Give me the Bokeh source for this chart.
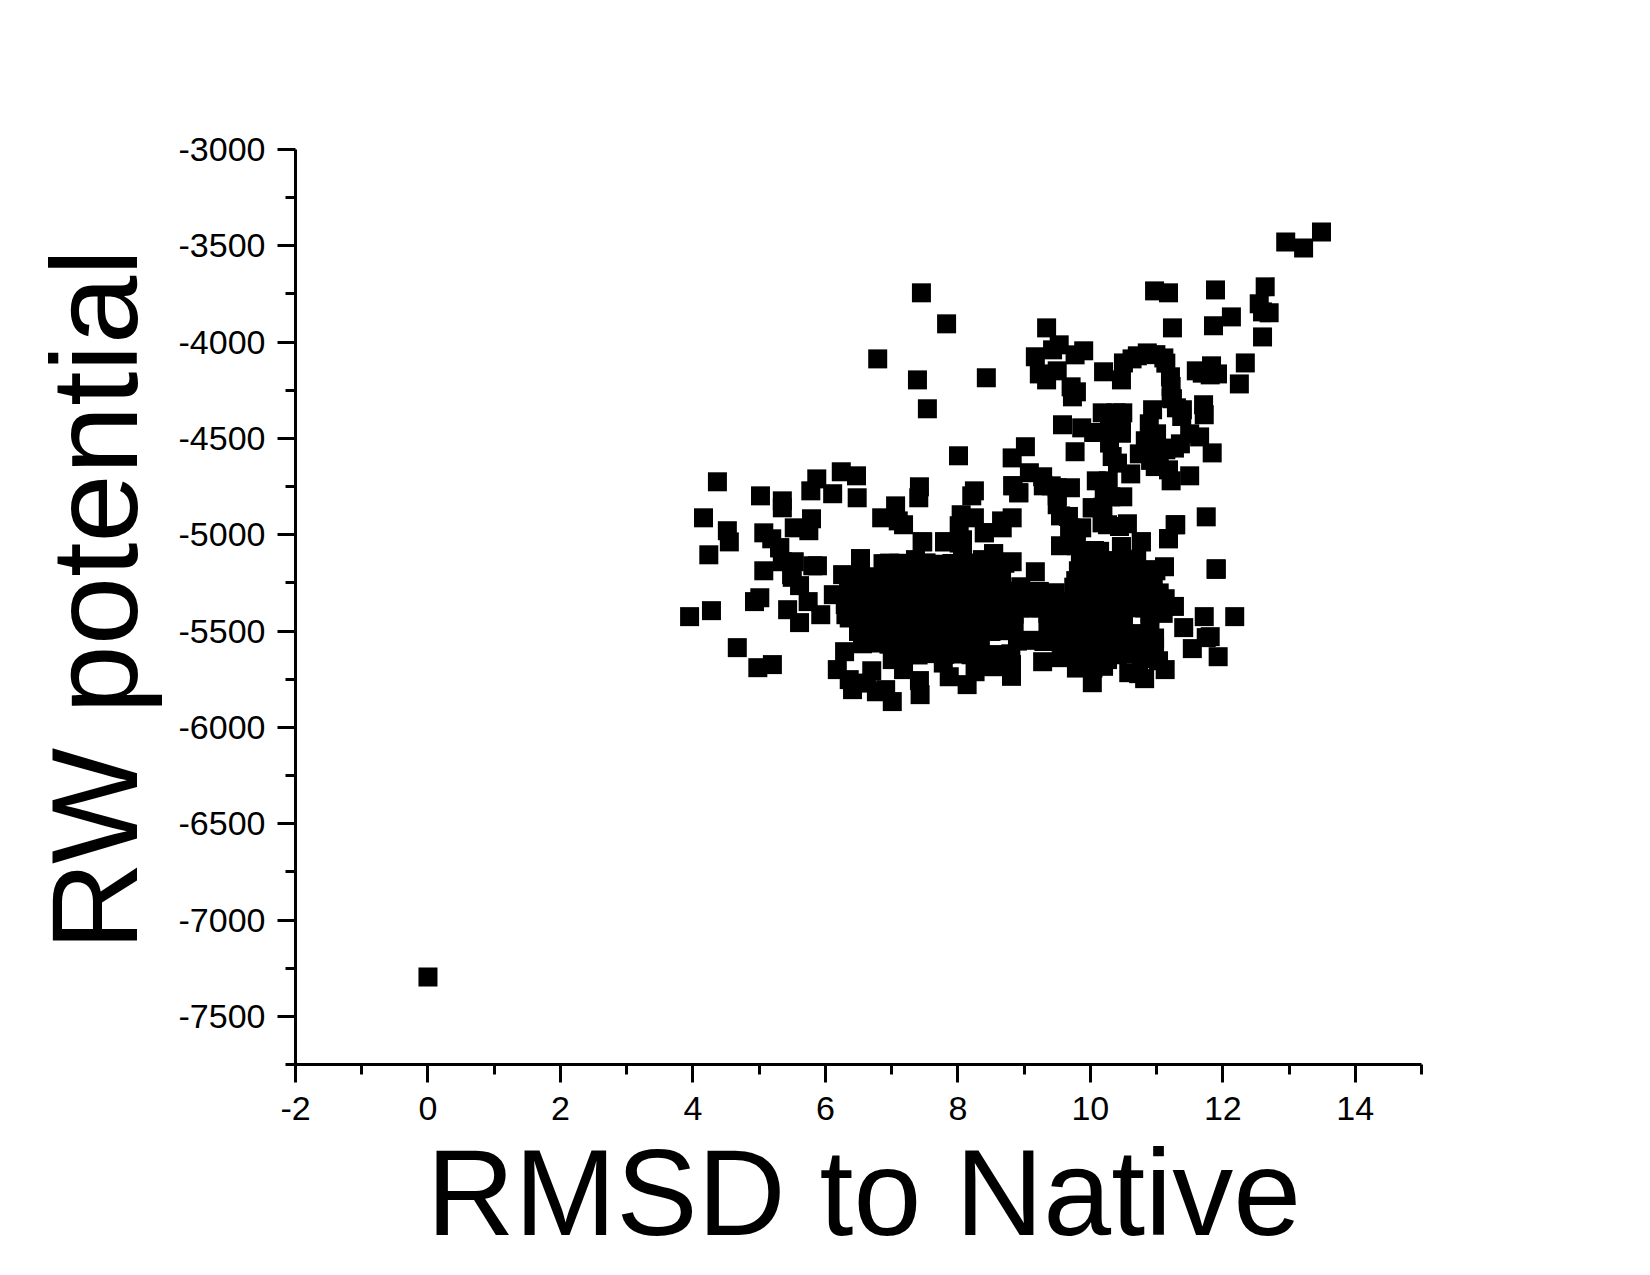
from bokeh.plotting import figure
from bokeh.models import FixedTicker, Title
from bokeh.embed import file_html
from bokeh.resources import INLINE

native = [(0.0, -7296)]

upper_sparse = [
    (7.45,-3744),(7.83,-3905),(6.79,-4087),(7.39,-4196),(8.43,-4185),(7.54,-4346),(8.01,-4590),
    (9.02,-4543),(8.82,-4601),(9.77,-4569),(9.34,-3926),(9.53,-4014),(9.43,-4040),(9.90,-4045),
    (9.77,-4066),(9.17,-4076),(9.23,-4165),(9.50,-4149),(9.34,-4196),(9.71,-4232),(9.79,-4258),
    (9.73,-4284),(10.20,-4154),(10.47,-4196),
]
upper_arc = [
    (10.50,-4108),(10.63,-4087),(10.71,-4071),(10.86,-4056),(10.99,-4065),(11.11,-4082),(11.14,-4109),
    (11.21,-4180),(11.22,-4230),(11.22,-4291),(11.24,-4294),(11.30,-4341),(11.39,-4351),(11.38,-4386),
    (11.50,-4476),(11.65,-4492),(11.71,-4325),(11.72,-4377),(11.84,-4575),(11.50,-4694),(11.22,-4720),
    (11.18,-4663),(10.98,-4646),(10.91,-4614),(10.74,-4580),(11.36,-4528),(11.27,-4550),(11.14,-4559),
    (10.94,-4351),(10.89,-4424),(11.00,-4476),(10.83,-4512),(11.04,-4576),(10.94,-4550),
]
upper_block = [
    (10.18,-4367),(10.39,-4367),(10.49,-4367),(10.29,-4421),(10.47,-4438),(9.58,-4429),(9.87,-4445),
    (10.05,-4469),(10.29,-4473),(10.47,-4473),(10.29,-4524),(10.33,-4594),(10.41,-4628),(10.61,-4684),
    (10.09,-4720),(10.27,-4720),(9.08,-4678),(9.28,-4699),(9.41,-4746),(8.83,-4746),(8.92,-4782),
    (9.29,-4746),(9.70,-4756),(9.50,-4756),(9.50,-4798),(9.50,-4844),(9.55,-4902),(9.67,-4905),
    (10.21,-4801),(10.49,-4803),(10.31,-4803),(10.03,-4860),(10.19,-4857),(10.18,-4938),(10.26,-4948),
    (10.56,-4943),(10.44,-4957),(9.69,-4964),(9.87,-4964),(9.69,-4992),(9.55,-5057),(9.79,-5057),
    (10.06,-5082),(10.47,-5062),(10.77,-5037),(11.29,-4948),(11.18,-5021),(11.75,-4907),
]
upper_right = [
    (13.49,-3428),(12.95,-3480),(13.22,-3511),(12.64,-3713),(12.55,-3801),(12.60,-3843),(12.70,-3848),
    (12.60,-3973),(11.89,-3729),(10.97,-3734),(11.18,-3744),(11.24,-3926),(12.13,-3869),(11.86,-3915),
    (12.34,-4108),(12.25,-4217),(11.60,-4149),(11.83,-4123),(11.69,-4161),(11.92,-4165),(11.81,-4170),
]
left_wing = [
    (4.37,-4725),(5.02,-4798),(5.35,-4824),(5.35,-4860),(4.16,-4912),(4.52,-4979),(4.55,-5037),
    (5.87,-4710),(5.78,-4772),(6.24,-4673),(6.47,-4694),(6.11,-4787),(6.48,-4808),(5.79,-4917),
    (5.53,-4964),(5.75,-4979),(5.07,-4990),(5.19,-5021),(5.31,-5068),(4.24,-5104),(7.42,-4751),
    (7.41,-4808),(7.06,-4850),(6.85,-4912),(7.10,-4928),(7.18,-4948),(8.25,-4772),(8.21,-4798),
    (8.05,-4896),(8.25,-4912),(8.02,-4953),(8.82,-4912),(8.66,-4928),(8.67,-4964),(8.40,-4990),
    (7.47,-5037),(7.80,-5037),(8.07,-5026),(8.54,-5099),(6.53,-5125),
    (3.95,-5425),(4.28,-5394),(4.67,-5586),(4.98,-5690),(5.20,-5674),(5.07,-5187),(5.35,-5140),
    (5.53,-5140),(5.81,-5161),(5.88,-5161),(5.49,-5207),(5.50,-5221),(5.61,-5264),(5.74,-5347),
    (5.43,-5389),(5.61,-5456),(5.93,-5415),(4.93,-5347),(5.01,-5327),(5.31,-5067),
]
lower_edge_left = [
    (6.53,-5124),(6.26,-5207),(6.12,-5311),(6.31,-5415),(6.29,-5607),(6.18,-5700),(6.36,-5752),
    (6.41,-5804),(6.70,-5706),(6.62,-5770),(6.77,-5815),(6.91,-5804),(7.01,-5866),(7.42,-5757),
    (7.43,-5830),(7.18,-5700),(7.01,-5648),(7.78,-5666),(7.87,-5737),(8.14,-5778),(8.26,-5711),
    (8.81,-5735),(8.40,-5648),(7.46,-5036),(7.80,-5036),(8.02,-5043),(8.07,-5112),(7.36,-5129),
    (6.87,-5150),(6.97,-5147),(8.40,-4989),(8.37,-5129),(8.54,-5098),(8.54,-5140),
]
right_edge = [
    (8.82,-5140),(9.17,-5192),(8.83,-4745),(8.92,-4782),(9.85,-5138),(9.82,-5187),(9.78,-5238),
    (9.47,-5301),(9.28,-5337),(9.23,-5294),(10.03,-4860),(10.18,-4937),(10.77,-5036),(10.47,-5062),
    (10.06,-5083),(10.14,-5086),(11.18,-5020),(11.28,-4948),(11.90,-5176),(11.90,-5180),(10.95,-5181),
    (11.12,-5166),(10.99,-5187),(11.13,-5332),(11.27,-5372),(11.04,-5302),(11.72,-5425),(12.18,-5425),
    (11.41,-5482),(11.81,-5529),(11.75,-5534),(11.54,-5591),(11.93,-5633),(11.13,-5700),(11.03,-5654),
    (10.77,-5643),(10.58,-5716),(10.82,-5747),(10.73,-5721),(10.97,-5536),(10.97,-5579),(10.03,-5768),
    (9.79,-5692),(10.04,-5692),(10.26,-5648),(9.28,-5659),(9.56,-5638),(8.81,-5674),(8.53,-5685),
    (8.43,-5648),
]
dense_left = [
    (6.92,-5152),(7.11,-5148),(7.31,-5155),(7.52,-5146),(7.69,-5153),(7.91,-5149),(8.12,-5156),(8.29,-5147),(8.52,-5152),(8.71,-5148),
    (6.45,-5222),(6.66,-5218),(6.84,-5225),(7.05,-5216),(7.26,-5223),(7.44,-5219),(7.66,-5224),(7.85,-5217),(8.04,-5221),(8.26,-5226),(8.44,-5218),(8.66,-5222),
    (6.35,-5292),(6.56,-5287),(6.74,-5294),(6.95,-5286),(7.16,-5293),(7.34,-5288),(7.55,-5295),(7.76,-5289),(7.94,-5291),(8.15,-5286),(8.36,-5293),(8.54,-5288),(8.75,-5294),
    (6.30,-5362),(6.51,-5357),(6.70,-5364),(6.91,-5358),(7.10,-5361),(7.31,-5356),(7.50,-5363),(7.69,-5359),(7.90,-5364),(8.11,-5357),(8.30,-5362),(8.49,-5358),(8.70,-5361),
    (6.36,-5432),(6.55,-5427),(6.76,-5434),(6.95,-5428),(7.14,-5431),(7.35,-5426),(7.54,-5433),(7.75,-5429),(7.94,-5434),(8.15,-5427),(8.34,-5432),(8.55,-5428),(8.74,-5431),
    (6.50,-5502),(6.71,-5497),(6.90,-5504),(7.11,-5498),(7.30,-5501),(7.49,-5496),(7.70,-5503),(7.91,-5499),(8.10,-5504),(8.29,-5497),(8.50,-5502),(8.71,-5498),
    (6.56,-5566),(6.75,-5562),(6.96,-5568),(7.15,-5563),(7.34,-5567),(7.55,-5561),(7.76,-5566),(7.95,-5563),(8.14,-5568),(8.34,-5562),
    (7.02,-5622),(7.21,-5618),(7.40,-5624),(7.61,-5617),(7.80,-5621),(8.01,-5619),(8.20,-5623),
]
dense_right = [
    (9.91,-5132),(10.11,-5128),(10.30,-5134),(10.51,-5127),(10.70,-5131),
    (9.85,-5202),(10.06,-5198),(10.25,-5204),(10.44,-5197),(10.65,-5201),(10.76,-5199),
    (8.95,-5270),(9.05,-5305),(8.92,-5342),(9.06,-5345),
    (9.75,-5272),(9.96,-5268),(10.15,-5274),(10.34,-5267),(10.55,-5271),(10.76,-5269),(10.95,-5273),
    (9.21,-5342),(9.41,-5338),(9.60,-5344),(9.81,-5337),(10.00,-5341),(10.21,-5339),(10.40,-5343),(10.61,-5337),(10.80,-5342),(11.00,-5338),
    (8.95,-5380),(9.10,-5380),(9.25,-5380),(10.62,-5378),(10.71,-5379),(10.82,-5380),(10.71,-5513),
    (8.85,-5412),(9.36,-5408),(9.55,-5414),(9.74,-5407),(9.95,-5411),(10.14,-5409),(10.35,-5413),(10.50,-5408),(10.90,-5411),(11.10,-5408),
    (8.85,-5482),(9.36,-5478),(9.61,-5484),(9.80,-5477),(10.01,-5481),(10.20,-5479),(10.41,-5483),(10.50,-5478),(10.90,-5481),
    (8.90,-5552),(9.11,-5548),(9.30,-5554),(9.51,-5547),(9.70,-5551),(9.91,-5549),(10.10,-5553),(10.31,-5547),(10.50,-5552),(10.71,-5548),(10.90,-5551),
    (8.60,-5622),(8.80,-5618),(9.61,-5624),(9.80,-5617),(10.01,-5621),(10.20,-5619),(10.41,-5623),(10.60,-5618),
    (9.80,-5682),(10.01,-5678),(10.20,-5683),
]

groups = native + upper_sparse + upper_arc + upper_block + upper_right + left_wing + lower_edge_left + right_edge + dense_left + dense_right
rmsd = [a for a, b in groups]
rw = [b for a, b in groups]

x_major = [-2, 0, 2, 4, 6, 8, 10, 12, 14]
x_minor = [-1, 1, 3, 5, 7, 9, 11, 13, 15]
y_major = [-3000, -3500, -4000, -4500, -5000, -5500, -6000, -6500, -7000, -7500]
y_minor = [-3250, -3750, -4250, -4750, -5250, -5750, -6250, -6750, -7250, -7750]
x_title = "RMSD to Native"
y_title = "RW potential"

p = figure(x_range=(-2, 15), y_range=(-7750, -3000),
           output_backend="svg", toolbar_location=None, background_fill_color="white",
           border_fill_color="white", outline_line_color=None,
           min_border_left=295, min_border_top=149, min_border_right=225, min_border_bottom=205,
           frame_width=1126, frame_height=915)
p.xgrid.visible = False
p.ygrid.visible = False
p.scatter(rmsd, rw, marker="square", size=19, fill_color="black", line_color=None)

font = "Liberation Sans"
for ax, major, minor in ((p.xaxis[0], x_major, x_minor), (p.yaxis[0], y_major, y_minor)):
    ax.ticker = FixedTicker(ticks=major, minor_ticks=minor)
    ax.major_label_overrides = {t: str(t) for t in major}
    ax.axis_line_color = "black"
    ax.axis_line_width = 3
    ax.major_tick_line_color = "black"
    ax.major_tick_line_width = 3
    ax.minor_tick_line_color = "black"
    ax.minor_tick_line_width = 3
    ax.major_tick_in = 0
    ax.minor_tick_in = 0
    ax.major_tick_out = 18
    ax.minor_tick_out = 10
    ax.major_label_text_font = font
    ax.major_label_text_font_size = "34px"
    ax.major_label_text_color = "black"

p.xaxis[0].major_label_standoff = 14
p.yaxis[0].major_label_standoff = 12

p.add_layout(Title(text=x_title, text_font=font, text_font_size="122px", text_font_style="normal",
                   text_color="black", align="left", offset=131, standoff=0), "below")
p.add_layout(Title(text=y_title, text_font=font, text_font_size="123px", text_font_style="normal",
                   text_color="black", align="left", offset=114, standoff=25), "left")

open("out.html", "w").write(file_html(p, INLINE))
